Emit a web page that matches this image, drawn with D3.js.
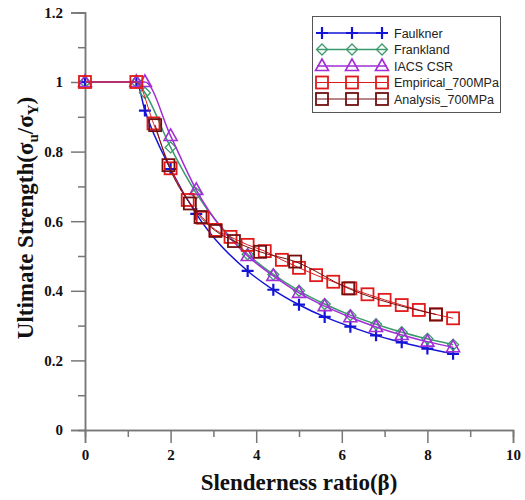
<!DOCTYPE html>
<html>
<head>
<meta charset="utf-8">
<script src="https://cdn.jsdelivr.net/npm/d3@7"></script>
<style>
  body { margin: 0; background: #fff; }
  svg { display: block; }
</style>
</head>
<body>
<svg width="525" height="500"></svg>
<script>
// values (beta, sigma_u/sigma_Y)
const faulkner = [[0,1],[1.2,1],[1.4,0.918],[2,0.75],[2.6,0.621],[3.8,0.457],[4.4,0.403],[5,0.36],[5.6,0.325],[6.2,0.297],[6.8,0.272],[7.4,0.252],[8,0.234],[8.6,0.219]];
const frankland = [[0,1],[1.2,1],[1.4,0.969],[2,0.812],[2.6,0.68],[3.8,0.505],[4.4,0.447],[5,0.40],[5.6,0.362],[6.2,0.330],[6.8,0.304],[7.4,0.281],[8,0.262],[8.6,0.245]];
const iacsCsr = [[0,1],[1.2,1],[1.4,1.0],[2,0.845],[2.6,0.69],[3.8,0.50],[4.4,0.443],[5,0.394],[5.6,0.356],[6.2,0.324],[6.8,0.296],[7.4,0.273],[8,0.254],[8.6,0.238]];
const empirical = [[0,1],[1.2,1],[1.6,0.881],[2.0,0.752],[2.4,0.661],[2.75,0.61],[3.05,0.575],[3.4,0.555],[3.8,0.532],[4.2,0.514],[4.6,0.489],[5.0,0.466],[5.4,0.445],[5.8,0.426],[6.2,0.407],[6.6,0.39],[7.0,0.374],[7.4,0.359],[7.8,0.345],[8.2,0.332],[8.6,0.321]];
const analysis = [[1.64,0.876],[1.95,0.761],[2.45,0.651],[2.7,0.612],[3.05,0.572],[3.48,0.543],[4.09,0.512],[4.91,0.484],[6.15,0.407],[8.2,0.332]];

const xMajor = [0, 2, 4, 6, 8, 10];
const xMinor = [1, 3, 5, 7, 9];
const yMajor = [0, 0.2, 0.4, 0.6, 0.8, 1, 1.2];
const yMinor = [0.1, 0.3, 0.5, 0.7, 0.9, 1.1];

const series = [
    {name: "Faulkner", data: faulkner, color: "#1414d6", marker: "plus", lw: 1.5},
    {name: "Frankland", data: frankland, color: "#3b9a6c", marker: "diamond", lw: 1.5},
    {name: "IACS CSR", data: iacsCsr, color: "#a22ed6", marker: "triangle", lw: 1.5},
    {name: "Empirical_700MPa", data: empirical, color: "#e01a1a", marker: "square", lw: 1},
    {name: "Analysis_700MPa", data: analysis, color: "#720f0f", marker: "square", lw: 1}
];

const svg = d3.select("svg");
const area = {left: 85, right: 513, top: 12.4, bottom: 430};

const scX = d3.scaleLinear().domain([0, 10]).range([area.left, area.right]);
const scY = d3.scaleLinear().domain([0, 1.2]).range([area.bottom, area.top]);

function styleAxis(g) {
    g.select(".domain").attr("stroke", "#777").attr("stroke-width", 1.5);
    g.selectAll(".tick line").attr("stroke", "#777").attr("stroke-width", 1.5);
    g.selectAll("text")
        .attr("fill", "#111")
        .style("font-family", "'Liberation Serif', 'Times New Roman', serif")
        .style("font-weight", "bold")
        .style("font-size", "15px");
}

// axes
svg.append("g")
    .attr("transform", `translate(0, ${area.bottom})`)
    .call(d3.axisBottom(scX).tickValues(xMinor).tickSize(7).tickFormat(""))
    .call(styleAxis);
svg.append("g")
    .attr("transform", `translate(0, ${area.bottom})`)
    .call(d3.axisBottom(scX).tickValues(xMajor).tickSize(13).tickPadding(6).tickFormat(d3.format("~g")))
    .call(styleAxis);
svg.append("g")
    .attr("transform", `translate(${area.left}, 0)`)
    .call(d3.axisLeft(scY).tickValues(yMinor).tickSize(7).tickFormat(""))
    .call(styleAxis);
svg.append("g")
    .attr("transform", `translate(${area.left}, 0)`)
    .call(d3.axisLeft(scY).tickValues(yMajor).tickSize(14).tickPadding(8).tickFormat(d3.format("~g")))
    .call(styleAxis);

// axis titles
const titleFont = "'Liberation Serif', 'Times New Roman', serif";
svg.append("text")
    .attr("x", 299).attr("y", 490)
    .attr("text-anchor", "middle")
    .style("font-family", titleFont).style("font-weight", "bold").style("font-size", "23px")
    .attr("fill", "#111")
    .text("Slenderness ratio(β)");

const yt = svg.append("text")
    .attr("transform", "translate(33, 218) rotate(-90)")
    .attr("text-anchor", "middle")
    .style("font-family", titleFont).style("font-weight", "bold").style("font-size", "23px")
    .attr("fill", "#111");
yt.append("tspan").text("Ultimate Strength(σ");
yt.append("tspan").attr("dy", 5).style("font-size", "15px").text("u");
yt.append("tspan").attr("dy", -5).text("/σ");
yt.append("tspan").attr("dy", 5).style("font-size", "15px").text("Y");
yt.append("tspan").attr("dy", -5).text(")");

function drawMarker(g, type, x, y, color) {
    const s = 6;
    if (type === "plus") {
        g.append("path").attr("d", `M${x - s},${y}H${x + s}M${x},${y - s}V${y + s}`)
            .attr("stroke", color).attr("stroke-width", 2.2).attr("fill", "none");
    } else if (type === "diamond") {
        const d = 5.5;
        g.append("path").attr("d", `M${x},${y - d}L${x + d},${y}L${x},${y + d}L${x - d},${y}Z`)
            .attr("stroke", color).attr("stroke-width", 1.3).attr("fill", "none");
    } else if (type === "triangle") {
        g.append("path").attr("d", `M${x},${y - 7}L${x + 6.5},${y + 4.5}L${x - 6.5},${y + 4.5}Z`)
            .attr("stroke", color).attr("stroke-width", 1.6).attr("fill", "none");
    } else {
        g.append("rect").attr("x", x - 6).attr("y", y - 6).attr("width", 12).attr("height", 12)
            .attr("stroke", color).attr("stroke-width", 1.8).attr("fill", "none");
    }
}

const line = d3.line().x(d => scX(d[0])).y(d => scY(d[1])).curve(d3.curveMonotoneX);

series.forEach(s => {
    const g = svg.append("g");
    g.append("path").datum(s.data).attr("d", line)
        .attr("fill", "none").attr("stroke", s.color).attr("stroke-width", s.lw);
    s.data.forEach(d => drawMarker(g, s.marker, scX(d[0]), scY(d[1]), s.color));
});

// legend
const lg = svg.append("g");
lg.append("rect").attr("x", 312.5).attr("y", 16.5).attr("width", 188).attr("height", 96)
    .attr("fill", "#fff").attr("stroke", "#555").attr("stroke-width", 1);
series.forEach((s, i) => {
    const y = 33 + i * 16.5;
    lg.append("line").attr("x1", 317).attr("x2", 387).attr("y1", y).attr("y2", y)
        .attr("stroke", s.color).attr("stroke-width", s.lw);
    [322, 352, 382].forEach(x => drawMarker(lg, s.marker, x, y, s.color));
    lg.append("text").attr("x", 394).attr("y", y + 4.5)
        .style("font-family", "'Liberation Sans', Arial, sans-serif").style("font-size", "12.5px")
        .attr("fill", "#222").text(s.name);
});
</script>
</body>
</html>
